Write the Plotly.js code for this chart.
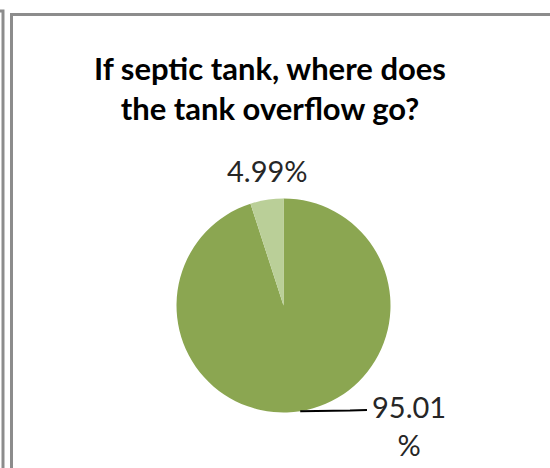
<!DOCTYPE html>
<html>
<head>
<meta charset="utf-8">
<script src="https://cdn.plot.ly/plotly-3.0.1.min.js"></script>
<style>
  html, body { margin: 0; padding: 0; background: #ffffff; }
  #chart { width: 550px; height: 468px; }
</style>
</head>
<body>
<div id="chart"></div>
<script>
// Where the septic tank overflow goes (percent of respondents)
const categories = ['Category A', 'Category B'];
const shares = [95.01, 4.99];
const sliceColors = ['#8BA651', '#BACF98'];
const titleLines = ['If septic tank, where does', 'the tank overflow go?'];

// Canvas and pie geometry (pixels)
const W = 550, H = 468;
const cx = 283.5, cy = 305.5, R = 107;

// pixel -> paper coordinates
const px = p => p / W;
const py = p => 1 - p / H;

// Data label placement (pixel centre of each label box); the big slice
// label wraps its percent sign and has a leader line to the slice edge.
const labelLayout = [
  { x: 409, y: 425, wrap: true, leaderEnd: { x: 367, y: 410 } },
  { x: 267.5, y: 170, wrap: false }
];

const total = shares.reduce((a, b) => a + b, 0);

// Mid-angle of each slice, clockwise from 12 o'clock
let cum = 0;
const midAngles = shares.map(v => {
  const mid = (cum + v / 2) / total * 2 * Math.PI;
  cum += v;
  return mid;
});

const annotations = shares.map((v, i) => ({
  text: v.toFixed(2) + (labelLayout[i].wrap ? '<br>%' : '%'),
  x: px(labelLayout[i].x), y: py(labelLayout[i].y),
  xref: 'paper', yref: 'paper',
  xanchor: 'center', yanchor: 'middle',
  showarrow: false,
  font: { family: 'Lato, "Open Sans", sans-serif', size: 29, color: '#262626' }
}));

const toPath = pts => pts.map((p, k) => (k ? 'L' : 'M') + px(p[0]).toFixed(5) + ',' + py(p[1]).toFixed(5)).join(' ');

const shapes = [];
labelLayout.forEach((lab, i) => {
  if (!lab.leaderEnd) return;
  const a = midAngles[i];
  const ex = cx + R * Math.sin(a), ey = cy - R * Math.cos(a);
  const end = lab.leaderEnd;
  shapes.push({
    type: 'path', xref: 'paper', yref: 'paper',
    path: toPath([[ex, ey], [end.x - 17, end.y + 0.6], [end.x, end.y]]),
    line: { color: '#000000', width: 2 }
  });
});

// Chart frame and the edge of the neighbouring frame on the left
shapes.push({
  type: 'path', xref: 'paper', yref: 'paper',
  path: toPath([[0, 11], [3, 11], [3, H]]),
  line: { color: '#8C8C8C', width: 3 }
});
shapes.push({
  type: 'path', xref: 'paper', yref: 'paper',
  path: toPath([[11.5, H], [11.5, 14.5], [W, 14.5]]),
  line: { color: '#8C8C8C', width: 3 }
});

const trace = {
  type: 'pie',
  labels: categories,
  values: shares,
  sort: false,
  direction: 'clockwise',
  rotation: 0,
  textinfo: 'none',
  hoverinfo: 'label+percent',
  marker: { colors: sliceColors, line: { width: 0 } },
  domain: { x: [px(cx - R), px(cx + R)], y: [py(cy + R), py(cy - R)] }
};

const layout = {
  width: W, height: H,
  margin: { l: 0, r: 0, t: 0, b: 0 },
  paper_bgcolor: '#ffffff',
  plot_bgcolor: '#ffffff',
  showlegend: false,
  title: {
    text: titleLines.join('<br>'),
    font: { family: 'Lato, "Open Sans", sans-serif', size: 31, color: '#000000', weight: 'bold' },
    x: 270 / W, xanchor: 'center', xref: 'container',
    y: 1 - 80 / H, yanchor: 'top', yref: 'container'
  },
  annotations: annotations,
  shapes: shapes
};

Plotly.newPlot('chart', [trace], layout, { staticPlot: true, displayModeBar: false });
</script>
</body>
</html>
